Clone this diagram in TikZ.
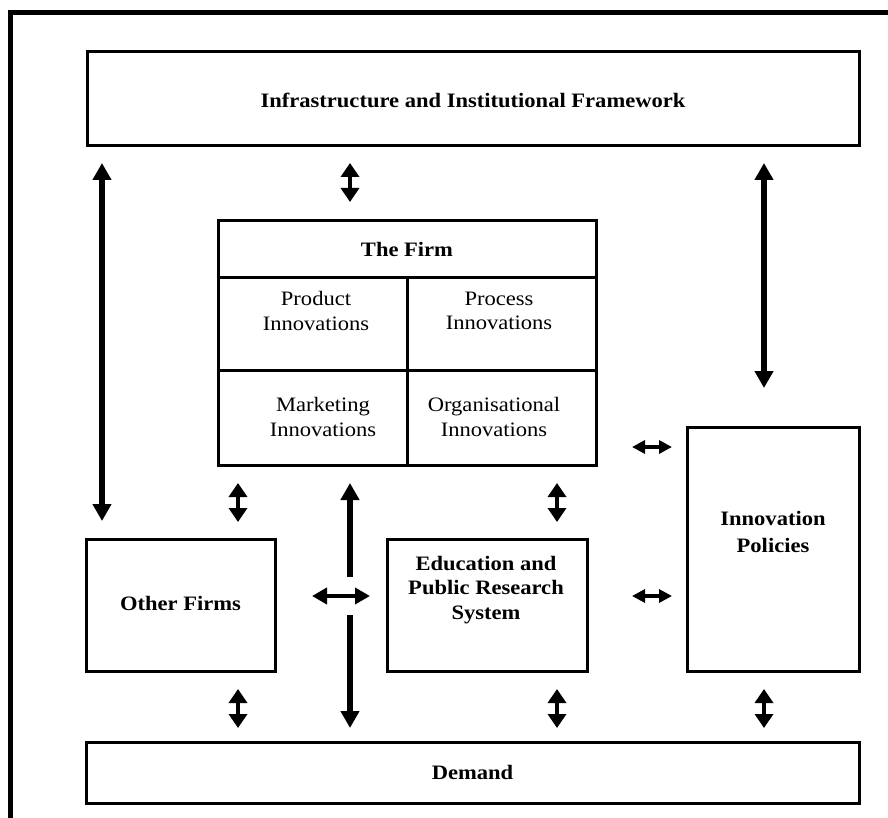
\documentclass[tikz,border=0pt]{standalone}
\usepackage{fontspec}
\setmainfont{Liberation Serif}[FakeStretch=1.1]
\usetikzlibrary{arrows.meta}

\begin{document}
\begin{tikzpicture}[x=1pt,y=-1pt,
  box/.style={draw, line width=3pt, inner sep=0pt},
  txt/.style={align=center, inner sep=0pt, font=\fontsize{20.5}{24.6}\selectfont},
  btxt/.style={txt, font=\fontsize{20.5}{24.6}\selectfont\bfseries},
  dbl/.style={{Triangle[length=14pt,width=18pt]}-{Triangle[length=14pt,width=18pt]}, line width=4pt},
  hdbl/.style={{Triangle[length=13pt,width=13pt]}-{Triangle[length=13pt,width=13pt]}, line width=4pt},
  middbl/.style={{Triangle[length=15pt,width=16pt]}-{Triangle[length=15pt,width=16pt]}, line width=4.5pt},
  longdbl/.style={{Triangle[length=17pt,width=18pt]}-{Triangle[length=17pt,width=18pt]}, line width=6pt},
  longone/.style={-{Triangle[length=17pt,width=18pt]}, line width=6pt}]
  \useasboundingbox (0,0) rectangle (888,818);

  % outer frame (top and left edges)
  \draw[line width=5pt] (10,818) -- (10,12.5) -- (888,12.5);

  % boxes
  \node[box, minimum width=772pt, minimum height=94pt] (infra) at (473,99) {};
  \node[btxt] (infratxt) at (473,100) {Infrastructure and Institutional Framework};

  \node[box, minimum width=378pt, minimum height=244pt] (firm) at (407,343) {};
  \node[btxt] (firmtxt) at (407,249) {The Firm};
  \draw[line width=3pt] (firm.west |- 0,277) -- (firm.east |- 0,277);
  \draw[line width=3pt] (firm.west |- 0,370) -- (firm.east |- 0,370);
  \draw[line width=3pt] (407,277) -- (firm.south);
  \node[txt] (prod) at (316,311) {Product\\Innovations};
  \node[txt] (proc) at (499,311) {Process\\Innovations};
  \node[txt] (mark) at (323,417) {Marketing\\Innovations};
  \node[txt] (orga) at (494,417) {Organisational\\Innovations};

  \node[box, minimum width=189pt, minimum height=132pt] (other) at (180.5,605) {};
  \node[btxt] (othertxt) at (180.5,603) {Other Firms};

  \node[box, minimum width=200pt, minimum height=132pt] (edu) at (487,605) {};
  \node[btxt] (edutxt) at (486,590) {Education and\\Public Research\\System};

  \node[box, minimum width=172pt, minimum height=244pt] (pol) at (773,549) {};
  \node[btxt, font=\fontsize{20.5}{27}\selectfont\bfseries] (poltxt) at (773,532) {Innovation\\Policies};

  \node[box, minimum width=773pt, minimum height=61pt] (demand) at (472.5,772.5) {};
  \node[btxt] (demandtxt) at (472.5,772) {Demand};

  % arrow end points
  \coordinate (l1) at (102,163);  \coordinate (l2) at (102,521);
  \coordinate (r1) at (764,163);  \coordinate (r2) at (764,388);
  \coordinate (t1) at (350,163);  \coordinate (t2) at (350,202);
  \coordinate (fa1) at (238,483); \coordinate (fa2) at (238,522);
  \coordinate (fb1) at (557,483); \coordinate (fb2) at (557,522);
  \coordinate (up1) at (350,577); \coordinate (up2) at (350,483);
  \coordinate (dn1) at (350,615); \coordinate (dn2) at (350,728);
  \coordinate (h1) at (312,596);  \coordinate (h2) at (370,596);
  \coordinate (p1) at (632,447);  \coordinate (p2) at (672,447);
  \coordinate (q1) at (632,596);  \coordinate (q2) at (672,596);
  \coordinate (da1) at (238,689); \coordinate (da2) at (238,728);
  \coordinate (db1) at (557,689); \coordinate (db2) at (557,728);
  \coordinate (dc1) at (764,689); \coordinate (dc2) at (764,728);

  % connectors
  \draw[longdbl] (l1) -- (l2);
  \draw[longdbl] (r1) -- (r2);
  \draw[dbl] (t1) -- (t2);
  \draw[dbl] (fa1) -- (fa2);
  \draw[dbl] (fb1) -- (fb2);
  \draw[longone] (up1) -- (up2);
  \draw[longone] (dn1) -- (dn2);
  \draw[middbl] (h1) -- (h2);
  \draw[hdbl] (p1) -- (p2);
  \draw[hdbl] (q1) -- (q2);
  \draw[dbl] (da1) -- (da2);
  \draw[dbl] (db1) -- (db2);
  \draw[dbl] (dc1) -- (dc2);
\end{tikzpicture}
\end{document}
